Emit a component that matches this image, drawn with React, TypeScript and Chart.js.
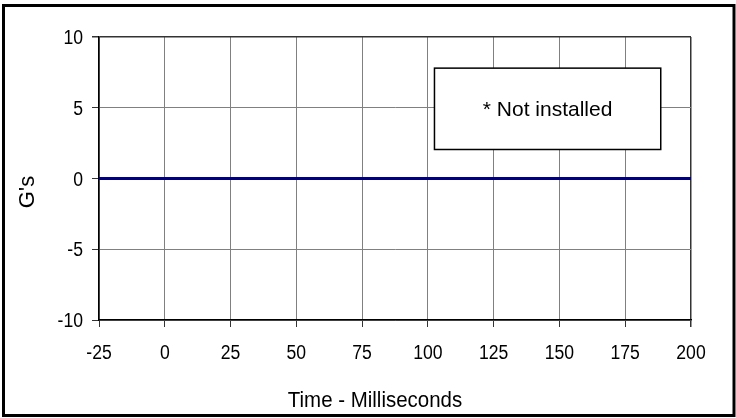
import React, { useEffect, useRef } from "react";
import { Chart, registerables } from "chart.js";

Chart.register(...registerables);

const timeMs: number[] = [-25, 0, 25, 50, 75, 100, 125, 150, 175, 200];
const gValues: number[] = [0, 0, 0, 0, 0, 0, 0, 0, 0, 0];
const xTicks: number[] = [-25, 0, 25, 50, 75, 100, 125, 150, 175, 200];
const yTicks: number[] = [-10, -5, 0, 5, 10];
const noteText = "* Not installed";
const noteBox = { x0: 102.5, x1: 188.5, y0: 2.05, y1: 7.8 };
const xTitle = "Time - Milliseconds";
const yTitle = "G's";

const SANS = '"Liberation Sans", Arial, sans-serif';

function condensedText(ctx: any, text: string, x: number, y: number, align: string, sx: number) {
  ctx.save();
  ctx.translate(x, y);
  ctx.scale(sx, 1);
  ctx.textAlign = align;
  ctx.textBaseline = "alphabetic";
  ctx.fillText(text, 0, 0);
  ctx.restore();
}

const decorPlugin = {
  id: "decor",
  beforeDraw(chart: any) {
    const ctx = chart.ctx;
    ctx.save();
    ctx.fillStyle = "#ffffff";
    ctx.fillRect(0, 0, chart.width, chart.height);
    ctx.restore();
  },
  afterDraw(chart: any) {
    const ctx = chart.ctx;
    const xs = chart.scales.x;
    const ys = chart.scales.y;
    ctx.save();
    ctx.fillStyle = "#000000";

    // tick labels (condensed Arial look)
    ctx.font = `20px ${SANS}`;
    xs.ticks.forEach((t: any) => {
      condensedText(ctx, String(t.value), xs.getPixelForValue(t.value), 359, "center", 0.88);
    });
    ys.ticks.forEach((t: any) => {
      condensedText(ctx, String(t.value), 83, ys.getPixelForValue(t.value) + 7, "right", 0.88);
    });

    // note box
    const bx0 = xs.getPixelForValue(noteBox.x0);
    const bx1 = xs.getPixelForValue(noteBox.x1);
    const by0 = ys.getPixelForValue(noteBox.y1);
    const by1 = ys.getPixelForValue(noteBox.y0);
    ctx.fillStyle = "#ffffff";
    ctx.fillRect(bx0, by0, bx1 - bx0, by1 - by0);
    ctx.strokeStyle = "#000000";
    ctx.lineWidth = 1.5;
    ctx.strokeRect(bx0, by0, bx1 - bx0, by1 - by0);
    ctx.fillStyle = "#000000";
    ctx.font = `21px ${SANS}`;
    ctx.textAlign = "center";
    ctx.textBaseline = "middle";
    ctx.fillText(noteText, (bx0 + bx1) / 2, (by0 + by1) / 2 + 1);

    // axis titles
    ctx.font = `22px ${SANS}`;
    condensedText(ctx, xTitle, 375, 407, "center", 0.93);
    ctx.save();
    ctx.translate(28, 192);
    ctx.rotate(-Math.PI / 2);
    ctx.font = `22px ${SANS}`;
    ctx.textAlign = "center";
    ctx.textBaseline = "middle";
    ctx.fillText(yTitle, 0, 0);
    ctx.restore();

    // outer frame
    ctx.strokeStyle = "#000000";
    ctx.lineWidth = 3;
    ctx.strokeRect(3.5, 5.5, 730.5, 410);
    ctx.restore();
  },
};

export default function App() {
  const canvasRef = useRef<HTMLCanvasElement | null>(null);

  useEffect(() => {
    document.body.style.margin = "0";
    const canvas = canvasRef.current;
    if (!canvas) return;
    const chart = new Chart(canvas, {
      type: "line",
      data: {
        datasets: [
          {
            data: timeMs.map((t, i) => ({ x: t, y: gValues[i] })),
            borderColor: "#000080",
            borderWidth: 3,
            pointRadius: 0,
            fill: false,
            tension: 0,
          },
        ],
      },
      options: {
        animation: false,
        responsive: false,
        maintainAspectRatio: false,
        layout: { padding: { top: 37, right: 45, left: 0, bottom: 0 } },
        plugins: { legend: { display: false }, tooltip: { enabled: false } },
        scales: {
          x: {
            type: "linear",
            min: xTicks[0],
            max: xTicks[xTicks.length - 1],
            afterBuildTicks: (s: any) => {
              s.ticks = xTicks.map((v) => ({ value: v }));
            },
            afterFit: (s: any) => {
              s.height = 98;
            },
            ticks: {
              color: "rgba(0,0,0,0)",
              font: { family: SANS, size: 18 },
              padding: 10,
              maxRotation: 0,
              autoSkip: false,
            },
            grid: {
              color: (c: any) => (c.tick && c.tick.value === 200 ? "#333333" : "#808080"),
              lineWidth: (c: any) => (c.tick && c.tick.value === 200 ? 1.5 : 1),
              tickColor: "#333333",
              tickLength: 7,
            },
            border: { color: "#000000", width: 1.5 },
          },
          y: {
            type: "linear",
            min: yTicks[0],
            max: yTicks[yTicks.length - 1],
            afterBuildTicks: (s: any) => {
              s.ticks = yTicks.map((v) => ({ value: v }));
            },
            afterFit: (s: any) => {
              s.width = 99;
            },
            ticks: {
              color: "rgba(0,0,0,0)",
              font: { family: SANS, size: 18 },
              padding: 9,
              autoSkip: false,
            },
            grid: {
              color: (c: any) => (c.tick && c.tick.value === 10 ? "#333333" : "#808080"),
              lineWidth: (c: any) => (c.tick && c.tick.value === 10 ? 1.5 : 1),
              tickColor: "#333333",
              tickLength: 7,
            },
            border: { color: "#000000", width: 1.5 },
          },
        },
      },
      plugins: [decorPlugin],
    });
    return () => chart.destroy();
  }, []);

  return (
    <div style={{ width: 736, height: 418 }}>
      <canvas ref={canvasRef} width={736} height={418} style={{ display: "block" }} />
    </div>
  );
}
